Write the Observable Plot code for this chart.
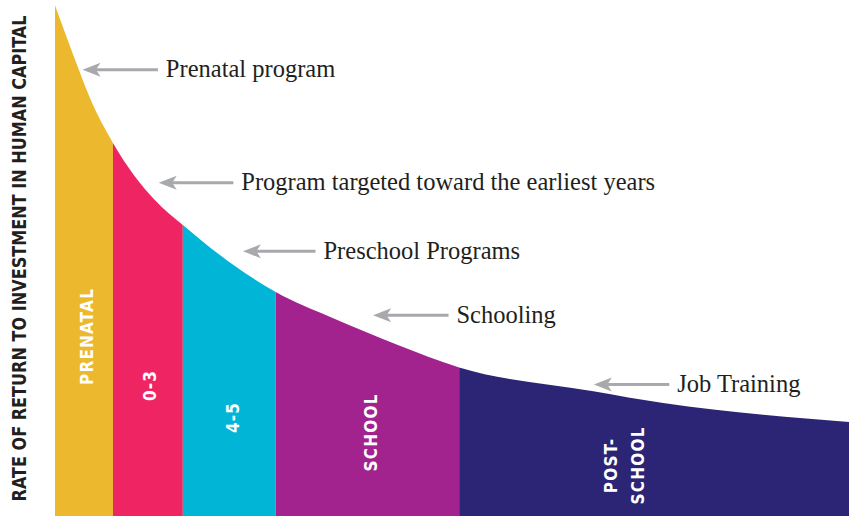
<!DOCTYPE html>
<html><head><meta charset="utf-8">
<script src="https://cdn.jsdelivr.net/npm/d3@7"></script>
<script src="https://cdn.jsdelivr.net/npm/@observablehq/plot@0.6"></script>
<style>
body{margin:0;background:#fff;}
</style></head><body><div id="chart"></div>
<script>
// ---- data ----
const yLabel = "RATE OF RETURN TO INVESTMENT IN HUMAN CAPITAL";
const curveX = [0, 1.3, 2.8, 4.4, 7.3, 12.6, 16.1, 24.9, 27.8, 34.6, 43.1, 50.9, 67.8, 76.6, 89.2, 100];
const curveY = [99, 93.5, 87.3, 81.0, 72.3, 61.2, 56.4, 46.1, 43.4, 38.6, 33.2, 28.8, 24.2, 21.9, 19.6, 18.2];
const bandNames = ["PRENATAL", "0-3", "4-5", "SCHOOL", "POST-SCHOOL"];
const bandLabels = ["PRENATAL", "0-3", "4-5", "SCHOOL", "POST-\nSCHOOL"];
const bandStart = [0, 7.3, 16.1, 27.8, 50.9];
const bandEnd = [7.3, 16.1, 27.8, 50.9, 100];
const bandLabelX = [3.65, 11.6, 22, 39.4, 71.3];
const bandLabelY = [34.9, 25.4, 19.2, 16.3, 9.9];
const bandColors = ["#ecb92e", "#ee2562", "#00b5d6", "#a2238e", "#2c2474"];
const noteText = ["Prenatal program", "Program targeted toward the earliest years", "Preschool Programs", "Schooling", "Job Training"];
const noteTipX = [3.4, 13.0, 23.6, 40.0, 67.8];
const noteTextX = [13.9, 23.4, 33.75, 50.5, 78.3];
const noteY = [86.6, 64.7, 51.4, 39.0, 25.6];

// ---- tables ----
const curve = curveX.map((x, i) => ({x, y: curveY[i]}));
const bands = bandNames.map((name, i) => ({name, label: bandLabels[i], x1: bandStart[i], x2: bandEnd[i], lx: bandLabelX[i], ly: bandLabelY[i]}));
const notes = noteText.map((text, i) => ({text, tip: noteTipX[i], tx: noteTextX[i], y: noteY[i]}));

const gray = "#a7a9ac";
const ink = "#231f20";
const condensed = "'Liberation Sans Narrow', 'DejaVu Sans Condensed', 'Roboto', sans-serif";

const arrowHead = {
  draw(ctx) {
    ctx.moveTo(-10, 0);
    ctx.lineTo(8, -7);
    ctx.lineTo(3.5, 0);
    ctx.lineTo(8, 7);
    ctx.closePath();
  }
};

const chart = Plot.plot({
  width: 855,
  height: 516,
  marginLeft: 55,
  marginRight: 6,
  marginTop: 0,
  marginBottom: 0,
  x: {domain: [0, 100], axis: null},
  y: {domain: [0, 100], axis: null},
  color: {domain: bandNames, range: bandColors},
  marks: [
    Plot.rectY(bands, {x1: "x1", x2: "x2", y1: 0, y2: 100, fill: "name"}),
    Plot.areaY(curve, {x: "x", y1: "y", y2: 100, fill: "white", curve: "monotone-x"}),
    Plot.text(bands, {x: "lx", y: "ly", text: "label", rotate: -90, fill: "white", fontWeight: "bold", fontSize: 17, fontFamily: condensed, lineHeight: 1.6}),
    Plot.link(notes, {x1: d => d.tip + 1, x2: d => d.tx - 1, y1: "y", y2: "y", stroke: gray, strokeWidth: 3}),
    Plot.dot(notes, {x: "tip", y: "y", dx: 10, symbol: arrowHead, r: 5, fill: gray, stroke: "none"}),
    Plot.text(notes, {x: "tx", y: "y", text: "text", textAnchor: "start", fontFamily: "'Liberation Serif', serif", fontSize: 24.5, fill: ink}),
    Plot.text([yLabel], {frameAnchor: "left", dx: -36, rotate: -90, textAnchor: "middle", text: d => d, fontFamily: condensed, fontWeight: "bold", fontSize: 19, fill: ink})
  ]
});

document.getElementById("chart").appendChild(chart);

// letter spacing for the white band labels; fit the axis title to its length
d3.select(chart).selectAll("g").filter(function () {
  return this.getAttribute("fill") === "white" && this.getAttribute("aria-label") === "text";
}).style("letter-spacing", "1.2px");
d3.select(chart).selectAll("text").filter(function () {
  return this.textContent === yLabel;
}).attr("textLength", 486).attr("lengthAdjust", "spacingAndGlyphs");
</script>
</body></html>
